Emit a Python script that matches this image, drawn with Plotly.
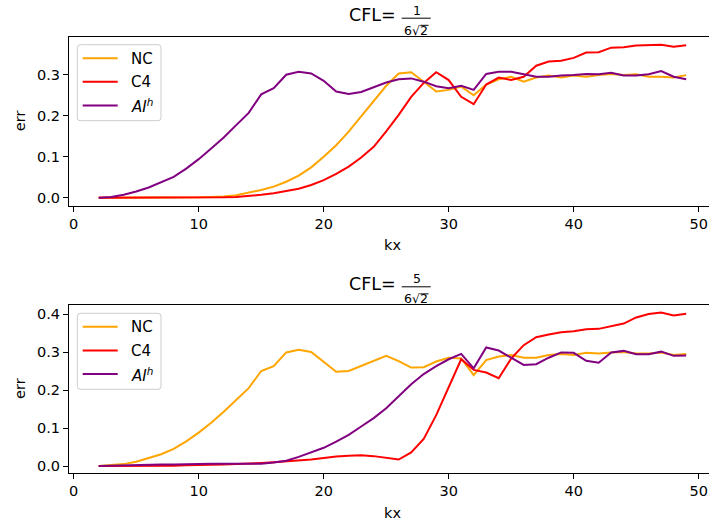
import plotly.graph_objects as go

kx = list(range(2, 50))

# Top panel: CFL = 1/(6*sqrt(2))
nc_top = [0.000, 0.000, 0.000, 0.000, 0.000, 0.000, 0.0005, 0.001, 0.001, 0.002,
          0.003, 0.006, 0.012, 0.019, 0.027, 0.039, 0.054, 0.074, 0.100, 0.128,
          0.161, 0.199, 0.237, 0.273, 0.303, 0.306, 0.283, 0.259, 0.263, 0.271,
          0.250, 0.276, 0.289, 0.295, 0.283, 0.293, 0.298, 0.293, 0.298, 0.295,
          0.299, 0.302, 0.299, 0.301, 0.295, 0.295, 0.293, 0.299]
c4_top = [0.000, 0.000, 0.000, 0.000, 0.000, 0.000, 0.000, 0.000, 0.000, 0.001,
          0.001, 0.002, 0.004, 0.007, 0.011, 0.016, 0.022, 0.031, 0.043, 0.058,
          0.076, 0.098, 0.124, 0.162, 0.202, 0.246, 0.280, 0.306, 0.287, 0.246,
          0.228, 0.276, 0.293, 0.287, 0.295, 0.322, 0.332, 0.334, 0.341, 0.354,
          0.355, 0.366, 0.367, 0.371, 0.372, 0.373, 0.368, 0.372]
ai_top = [0.000, 0.002, 0.007, 0.015, 0.025, 0.038, 0.051, 0.071, 0.094, 0.120,
          0.147, 0.177, 0.207, 0.252, 0.267, 0.300, 0.307, 0.303, 0.285, 0.259,
          0.253, 0.258, 0.269, 0.281, 0.289, 0.291, 0.283, 0.272, 0.267, 0.273,
          0.263, 0.302, 0.307, 0.307, 0.301, 0.295, 0.295, 0.298, 0.299, 0.302,
          0.301, 0.305, 0.298, 0.298, 0.301, 0.309, 0.295, 0.289]

# Bottom panel: CFL = 5/(6*sqrt(2))
nc_bot = [0.000, 0.002, 0.005, 0.011, 0.020, 0.031, 0.045, 0.065, 0.088, 0.114,
          0.143, 0.174, 0.205, 0.250, 0.263, 0.299, 0.306, 0.300, 0.275, 0.248,
          0.250, 0.263, 0.276, 0.290, 0.276, 0.259, 0.260, 0.275, 0.285, 0.283,
          0.239, 0.279, 0.288, 0.292, 0.285, 0.285, 0.292, 0.295, 0.292, 0.298,
          0.296, 0.299, 0.300, 0.296, 0.296, 0.299, 0.292, 0.295]
c4_bot = [0.000, 0.000, 0.000, 0.001, 0.001, 0.001, 0.001, 0.002, 0.002, 0.003,
          0.004, 0.005, 0.006, 0.008, 0.010, 0.012, 0.014, 0.017, 0.021, 0.025,
          0.027, 0.028, 0.026, 0.021, 0.017, 0.036, 0.071, 0.134, 0.209, 0.281,
          0.253, 0.246, 0.231, 0.283, 0.318, 0.339, 0.346, 0.352, 0.355, 0.360,
          0.361, 0.367, 0.375, 0.391, 0.400, 0.404, 0.396, 0.401]
ai_bot = [0.000, 0.001, 0.002, 0.002, 0.003, 0.004, 0.004, 0.005, 0.005, 0.006,
          0.006, 0.006, 0.006, 0.006, 0.009, 0.014, 0.024, 0.035, 0.048, 0.064,
          0.082, 0.104, 0.126, 0.152, 0.184, 0.215, 0.242, 0.263, 0.281, 0.295,
          0.257, 0.312, 0.304, 0.285, 0.266, 0.268, 0.285, 0.299, 0.298, 0.277,
          0.272, 0.299, 0.303, 0.294, 0.294, 0.301, 0.290, 0.291]

series_names = ["NC", "C4", "<i>AI</i><sup><i>h</i></sup>"]
series_colors = ["#FFA500", "#FF0000", "#800080"]
x_ticks = [0, 10, 20, 30, 40, 50]
title_numerators = ["1", "5"]

W, H = 709, 527
ML = 69
PW = W - ML
FONT = "DejaVu Sans"
TICK_FS = 14.5


def px(x):
    return (x - ML) / PW


def py(y):
    return (H - y) / H


fig = go.Figure()
for vals, name, col in zip([nc_top, c4_top, ai_top], series_names, series_colors):
    fig.add_trace(go.Scatter(x=kx, y=vals, mode="lines", name=name,
                             line=dict(color=col, width=2),
                             xaxis="x", yaxis="y", showlegend=False))
for vals, name, col in zip([nc_bot, c4_bot, ai_bot], series_names, series_colors):
    fig.add_trace(go.Scatter(x=kx, y=vals, mode="lines", name=name,
                             line=dict(color=col, width=2),
                             xaxis="x2", yaxis="y2", showlegend=False))

axis_common = dict(showgrid=False, zeroline=False, showline=True, linecolor="black",
                   linewidth=1, ticks="outside", ticklen=5, tickwidth=1, tickcolor="black",
                   tickfont=dict(family=FONT, size=TICK_FS, color="black"))

xr = [(ML - 73.7) / 12.5, (ML - 73.7) / 12.5 + PW / 12.5]

top_box = (36.7, 205.7)
bot_box = (305.3, 472.7)

fig.update_layout(
    width=W, height=H,
    margin=dict(l=ML, r=0, t=0, b=0),
    plot_bgcolor="white", paper_bgcolor="white",
    font=dict(family=FONT, size=TICK_FS, color="black"),
    xaxis=dict(domain=[0, 1], range=xr, tickvals=x_ticks, anchor="y",
               mirror=True, **axis_common),
    yaxis=dict(domain=[py(top_box[1]), py(top_box[0])], range=[-0.0195, 0.3927],
               tickvals=[0.0, 0.1, 0.2, 0.3], tickformat=".1f", anchor="x", **axis_common),
    xaxis2=dict(domain=[0, 1], range=xr, tickvals=x_ticks, anchor="y2",
                mirror=True, **axis_common),
    yaxis2=dict(domain=[py(bot_box[1]), py(bot_box[0])], range=[-0.0176, 0.423],
                tickvals=[0.0, 0.1, 0.2, 0.3, 0.4], tickformat=".1f", anchor="x2", **axis_common),
    showlegend=False,
)

annotations = []
shapes = []


def rounded_rect(x0, y0, x1, y1, r):
    # pixel coords -> paper coords path with rounded corners
    pts = []
    pts.append(f"M {px(x0 + r)},{py(y0)}")
    pts.append(f"L {px(x1 - r)},{py(y0)}")
    pts.append(f"Q {px(x1)},{py(y0)} {px(x1)},{py(y0 + r)}")
    pts.append(f"L {px(x1)},{py(y1 - r)}")
    pts.append(f"Q {px(x1)},{py(y1)} {px(x1 - r)},{py(y1)}")
    pts.append(f"L {px(x0 + r)},{py(y1)}")
    pts.append(f"Q {px(x0)},{py(y1)} {px(x0)},{py(y1 - r)}")
    pts.append(f"L {px(x0)},{py(y0 + r)}")
    pts.append(f"Q {px(x0)},{py(y0)} {px(x0 + r)},{py(y0)}")
    pts.append("Z")
    return " ".join(pts)


for dy, num in zip([0, 268.6], title_numerators):
    # Title: CFL = num / (6 sqrt 2)
    annotations.append(dict(text="CFL=", x=px(397.5), y=py(15.3 + dy), xref="paper", yref="paper",
                            xanchor="right", yanchor="middle", showarrow=False,
                            font=dict(family=FONT, size=17.5, color="black")))
    annotations.append(dict(text=num, x=px(416.5), y=py(10.3 + dy), xref="paper", yref="paper",
                            xanchor="center", yanchor="middle", showarrow=False,
                            font=dict(family=FONT, size=12.5, color="black")))
    annotations.append(dict(text="6\u221a2", x=px(416), y=py(30.3 + dy), xref="paper", yref="paper",
                            xanchor="center", yanchor="middle", showarrow=False,
                            font=dict(family=FONT, size=12.5, color="black")))
    shapes.append(dict(type="line", xref="paper", yref="paper",
                       x0=px(401.7), x1=px(430.7), y0=py(18.2 + dy), y1=py(18.2 + dy),
                       line=dict(color="black", width=1)))
    shapes.append(dict(type="line", xref="paper", yref="paper",
                       x0=px(420.3), x1=px(428.5), y0=py(25.3 + dy), y1=py(25.3 + dy),
                       line=dict(color="black", width=1)))

    # Legend (drawn manually to match the reference layout)
    shapes.append(dict(type="path", xref="paper", yref="paper",
                       path=rounded_rect(77.3, 44.7 + dy, 161, 120.7 + dy, 3),
                       fillcolor="rgba(255,255,255,0.8)",
                       line=dict(color="#cccccc", width=1), layer="above"))
    for i, (name, col) in enumerate(zip(series_names, series_colors)):
        ly = 58.2 + 23.6 * i + dy
        shapes.append(dict(type="line", xref="paper", yref="paper",
                           x0=px(82.7), x1=px(117.7), y0=py(ly), y1=py(ly),
                           line=dict(color=col, width=2), layer="above"))
        annotations.append(dict(text=name, x=px(128.5), y=py(ly + 0.5), xref="paper", yref="paper",
                                xanchor="left", yanchor="middle", showarrow=False,
                                font=dict(family=FONT, size=15, color="black")))

for yc, yl in [(121.2, 245), (389, 513)]:
    annotations.append(dict(text="err", x=px(20), y=py(yc), xref="paper", yref="paper",
                            xanchor="center", yanchor="middle", textangle=-90, showarrow=False,
                            font=dict(family=FONT, size=TICK_FS, color="black")))
    annotations.append(dict(text="kx", x=px(392.7), y=py(yl), xref="paper", yref="paper",
                            xanchor="center", yanchor="middle", showarrow=False,
                            font=dict(family=FONT, size=TICK_FS, color="black")))

fig.update_layout(annotations=annotations, shapes=shapes)
fig.write_html("out.html")
